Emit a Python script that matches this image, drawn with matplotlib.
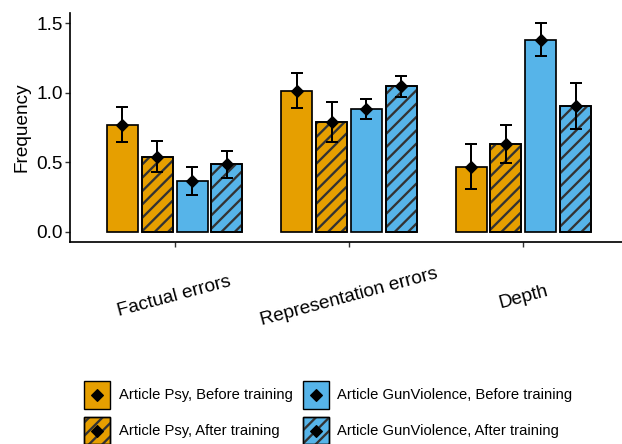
import matplotlib
matplotlib.use("Agg")
import matplotlib.pyplot as plt
from matplotlib.patches import Patch
from matplotlib.lines import Line2D
from matplotlib.legend_handler import HandlerTuple, HandlerBase
import numpy as np

# Render at 80 dpi so the hatch tile (one inch) gives the finer stripe pitch;
# all sizes below are given in pixels and converted to points.
DPI = 80
W, H = 622, 444


def px(v):
    return v * 72.0 / DPI


plt.rcParams["font.family"] = ["Liberation Sans", "DejaVu Sans"]
plt.rcParams["hatch.linewidth"] = px(2.3)

categories = ["Factual errors", "Representation errors", "Depth"]
series = [
    "Article Psy, Before training",
    "Article Psy, After training",
    "Article GunViolence, Before training",
    "Article GunViolence, After training",
]
psy_before = [0.77, 1.015, 0.467]
psy_before_se = [0.125, 0.125, 0.163]
psy_after = [0.541, 0.788, 0.632]
psy_after_se = [0.114, 0.145, 0.139]
gun_before = [0.366, 0.883, 1.383]
gun_before_se = [0.101, 0.073, 0.12]
gun_after = [0.484, 1.046, 0.905]
gun_after_se = [0.098, 0.077, 0.165]

values = [psy_before, psy_after, gun_before, gun_after]
errors = [psy_before_se, psy_after_se, gun_before_se, gun_after_se]
colors = ["#E69F00", "#E69F00", "#56B4E9", "#56B4E9"]
hatched = [False, True, False, True]
yticks = [0.0, 0.5, 1.0, 1.5]


class CenteredMarker(HandlerBase):
    """Place a single marker at the centre of the legend key box."""

    def create_artists(self, legend, orig_handle, xdescent, ydescent,
                       width, height, fontsize, trans):
        m = Line2D([width / 2 - xdescent], [height / 2 - ydescent],
                   marker=orig_handle.get_marker(),
                   markersize=orig_handle.get_markersize(),
                   color=orig_handle.get_color(), linestyle="none",
                   transform=trans)
        return [m]


fig = plt.figure(figsize=(W / DPI, H / DPI), dpi=DPI)
ax = fig.add_axes([70 / W, 1 - 242 / H, (628 - 70) / W, (242 - 13) / H])

x = np.arange(len(categories))
slot = 0.2
bar_w = 0.178
offsets = (np.arange(4) - 1.5) * slot

for i in range(4):
    xs = x + offsets[i]
    ax.bar(xs, values[i], width=bar_w, color=colors[i], edgecolor="black",
           linewidth=px(1.7), zorder=2)
    if hatched[i]:
        ax.bar(xs, values[i], width=bar_w, color="none", edgecolor="#333333",
               linewidth=0, hatch="//", zorder=3)
        ax.bar(xs, values[i], width=bar_w, color="none", edgecolor="black",
               linewidth=px(1.7), zorder=3.5)
    ax.errorbar(xs, values[i], yerr=errors[i], fmt="D", color="black",
                markersize=px(8.5), elinewidth=px(2.0), capsize=px(6.3),
                capthick=px(2.0), zorder=4)

ax.set_xlim(-0.6, 2.6)
ax.set_ylim(-0.075, 1.575)
ax.set_yticks(yticks)
ax.set_yticklabels([f"{v:.1f}" for v in yticks])
ax.set_xticks(x)
ax.set_xticklabels(categories)
for lab in ax.get_xticklabels():
    lab.set_rotation(15)
    lab.set_rotation_mode("anchor")
    lab.set_ha("center")
    lab.set_va("center")

ax.tick_params(axis="both", direction="out", length=px(5), width=px(1.4),
               color="#333333", labelsize=px(19), labelcolor="black")
ax.tick_params(axis="x", pad=px(50))
ax.tick_params(axis="y", pad=px(2))

for side in ["top", "right"]:
    ax.spines[side].set_visible(False)
for side in ["left", "bottom"]:
    ax.spines[side].set_linewidth(px(1.7))
    ax.spines[side].set_color("black")

ax.set_ylabel("Frequency", fontsize=px(19), labelpad=px(6))

handles = []
for i in range(4):
    parts = [Patch(facecolor=colors[i], edgecolor="black", linewidth=px(1.4))]
    if hatched[i]:
        parts.append(Patch(facecolor="none", edgecolor="#333333", linewidth=0,
                           hatch="//"))
        parts.append(Patch(facecolor="none", edgecolor="black",
                           linewidth=px(1.4)))
    parts.append(Line2D([], [], marker="D", color="black",
                        markersize=px(8.5), linestyle="none"))
    handles.append(tuple(parts))

fig.legend(handles, series,
           handler_map={tuple: HandlerTuple(ndivide=1),
                        Line2D: CenteredMarker()},
           loc="upper left", bbox_to_anchor=(84 / W, 1 - 381 / H),
           ncol=2, frameon=False, fontsize=px(14.8), borderpad=0,
           borderaxespad=0, handlelength=1.75, handleheight=2.5,
           handletextpad=0.6, columnspacing=0.68, labelspacing=0.54)

fig.savefig("out.png", dpi=DPI)
